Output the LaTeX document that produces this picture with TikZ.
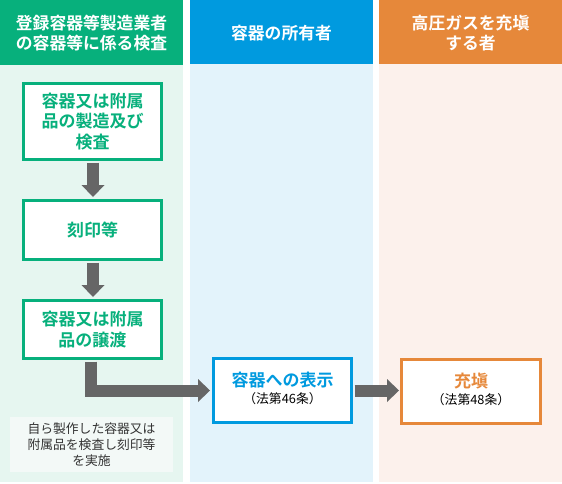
\documentclass[tikz,border=0pt]{standalone}
\usepackage{fontspec}
\setmainfont{Noto Sans CJK JP}
\newfontfamily\jpbold{Noto Sans CJK JP Bold}
\usetikzlibrary{arrows.meta}
\definecolor{gH}{HTML}{07B07C}
\definecolor{gL}{HTML}{E6F6F0}
\definecolor{bH}{HTML}{009ADF}
\definecolor{bL}{HTML}{E3F3FB}
\definecolor{oH}{HTML}{E6883A}
\definecolor{oL}{HTML}{FCF1EC}
\definecolor{arr}{HTML}{666666}
\definecolor{noteF}{HTML}{F3F9F7}
\definecolor{txt}{HTML}{333333}
\tikzset{
  head/.style={text=white,font=\jpbold\fontsize{16.8}{20.5}\selectfont,align=center},
  procbox/.style={draw=#1,line width=3pt,fill=white,inner sep=0pt,align=center,text=#1,font=\jpbold\fontsize{17}{20.5}\selectfont},
  boxtitle/.style={text=#1,font=\jpbold\fontsize{17}{20.5}\selectfont,inner sep=0pt},
  sub/.style={font=\fontsize{12.8}{14}\selectfont,text=black,inner sep=0pt},
  fat/.style={arr,line width=12pt},
  fathead/.style={fill=arr,draw=none},
}
\begin{document}
\begin{tikzpicture}[x=1pt,y=-1pt]
\useasboundingbox (0,0) rectangle (562,483);
% columns
\fill[gL] (0,65) rectangle (183,482);
\fill[gH] (0,0) rectangle (183,65);
\fill[bL] (190,64) rectangle (373,482);
\fill[bH] (190,0) rectangle (373,64);
\fill[oL] (379,64) rectangle (562,482);
\fill[oH] (379,0) rectangle (562,64);
\node[head] (h1) at (91.5,33) {登録容器等製造業者\\の容器等に係る検査};
\node[head] (h2) at (281.5,33) {容器の所有者};
\node[head] (h3) at (470.5,33) {高圧ガスを充塡\\する者};
% boxes
\node[procbox=gH,minimum width=138pt,minimum height=76pt] (b1) at (92.5,121.5) {容器又は附属\\品の製造及び\\検査};
\node[procbox=gH,minimum width=138pt,minimum height=59pt] (b2) at (92.5,230) {刻印等};
\node[procbox=gH,minimum width=138pt,minimum height=58pt] (b3) at (92.5,329.5) {容器又は附属\\品の譲渡};
\node[procbox=bH,minimum width=138pt,minimum height=64pt] (b4) at (282.5,390.5) {};
\node[boxtitle=bH] (b4t) at ([yshift=10pt]b4.center) {容器への表示};
\node[sub] (b4s) at ([yshift=-8.5pt]b4.center) {（法第46条）};
\node[procbox=oH,minimum width=139pt,minimum height=64pt] (b5) at (471,391) {};
\node[boxtitle=oH] (b5t) at ([yshift=10pt]b5.center) {充塡};
\node[sub] (b5s) at ([yshift=-8.5pt]b5.center) {（法第48条）};
% note
\node[fill=noteF,minimum width=163pt,minimum height=55pt,inner sep=0pt,align=center,text=txt,font=\fontsize{12.8}{16}\selectfont] (note) at (91.5,444.5) {自ら製作した容器又は\\附属品を検査し刻印等\\を実施};
% arrows
\coordinate (a1s) at ([xshift=0.5pt,yshift=-1.5pt]b1.south);
\coordinate (a1e) at ([xshift=0.5pt,yshift=-24pt]b1.south);
\draw[fat] (a1s) -- (a1e);
\fill[fathead] ([xshift=-11.5pt]a1e) -- ([xshift=11.5pt]a1e) -- ([yshift=-12pt]a1e) -- cycle;
\coordinate (a2s) at ([xshift=0.5pt,yshift=-1.5pt]b2.south);
\coordinate (a2e) at ([xshift=0.5pt,yshift=-24pt]b2.south);
\draw[fat] (a2s) -- (a2e);
\fill[fathead] ([xshift=-11.5pt]a2e) -- ([xshift=11.5pt]a2e) -- ([yshift=-12pt]a2e) -- cycle;
\coordinate (a3s) at ([xshift=-1.5pt,yshift=-1.5pt]b3.south);
\coordinate (a3c) at (91,390.5);
\coordinate (a3e) at ([xshift=-14pt]b4.west |- a3c);
\draw[fat] (a3s) |- (a3e);
\fill[fathead] ([yshift=-11.5pt]a3e) -- ([yshift=11.5pt]a3e) -- ([xshift=12pt]a3e) -- cycle;
\coordinate (a4s) at ([xshift=1.5pt]b4.east |- a3c);
\coordinate (a4e) at ([xshift=-13pt]b5.west |- a3c);
\draw[fat] (a4s) -- (a4e);
\fill[fathead] ([yshift=-11.5pt]a4e) -- ([yshift=11.5pt]a4e) -- ([xshift=12pt]a4e) -- cycle;
\end{tikzpicture}
\end{document}
